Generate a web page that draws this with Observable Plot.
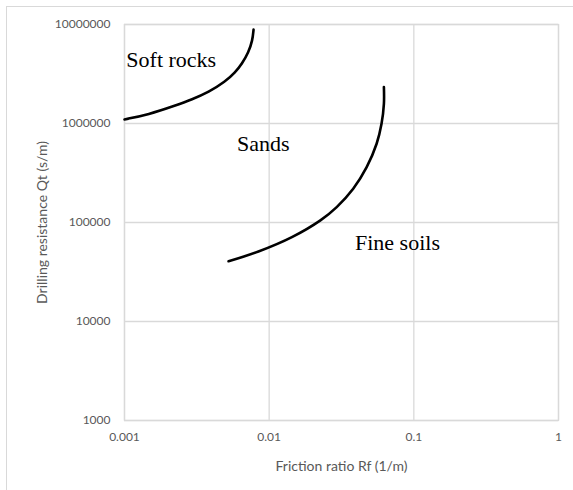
<!DOCTYPE html>
<html>
<head>
<meta charset="utf-8">
<script src="https://cdn.jsdelivr.net/npm/d3@7"></script>
<script src="https://cdn.jsdelivr.net/npm/@observablehq/plot@0.6"></script>
<style>
  html, body { margin: 0; padding: 0; background: #fff; overflow: hidden; }
  #wrap { position: relative; width: 573px; height: 490px; }
  #border { position: absolute; left: 6px; top: 6px; width: 700px; height: 700px; border: 1.5px solid #d9d9d9; box-sizing: border-box; }
  #chart { position: absolute; left: 0; top: 0; }
</style>
</head>
<body>
<div id="wrap"><div id="border"></div><div id="chart"></div></div>
<script>
const xTicks = [0.001, 0.01, 0.1, 1];
const yTicks = [1000, 10000, 100000, 1000000, 10000000];

const softRocksRf = [0.001, 0.00146, 0.00225, 0.00293, 0.00381, 0.00498, 0.00584, 0.00649, 0.0072, 0.00767, 0.0078];
const softRocksQt = [1100000, 1230000, 1520000, 1750000, 2070000, 2650000, 3300000, 4010000, 5250000, 6890000, 8900000];

const sandsRf = [0.00524, 0.00843, 0.01436, 0.0226, 0.0293, 0.0381, 0.0472, 0.0553, 0.0598, 0.0621, 0.0621];
const sandsQt = [40600, 50900, 71100, 105000, 143000, 219000, 362000, 624000, 993000, 1580000, 2330000];

const labelNames = ["Soft rocks", "Sands", "Fine soils"];
const labelRf = [0.00103, 0.0060, 0.0392];
const labelQt = [4400000, 628000, 62800];

const curve1 = softRocksRf.map((x, i) => ({x, y: softRocksQt[i]}));
const curve2 = sandsRf.map((x, i) => ({x, y: sandsQt[i]}));
const labels = labelNames.map((t, i) => ({t, x: labelRf[i], y: labelQt[i]}));

const grid = "#d9d9d9";
const tickFont = "Lato, 'Open Sans', sans-serif";

const chart = Plot.plot({
  width: 573,
  height: 490,
  marginLeft: 124,
  marginRight: 15,
  marginTop: 24,
  marginBottom: 70,
  style: { background: "transparent", fontFamily: tickFont, fontSize: "12px", color: "#595959" },
  x: { type: "log", domain: [0.001, 1] },
  y: { type: "log", domain: [1000, 10000000] },
  marks: [
    Plot.gridX(xTicks, { stroke: grid, strokeOpacity: 1, strokeWidth: 1.3 }),
    Plot.gridY(yTicks, { stroke: grid, strokeOpacity: 1, strokeWidth: 1.3 }),
    Plot.frame({ stroke: grid, strokeWidth: 1.3 }),
    Plot.axisX({ ticks: xTicks, tickFormat: d => String(d), tickSize: 0, tickPadding: 12,
      label: null, fill: "#595959", fontSize: 12 }),
    Plot.axisY({ ticks: yTicks, tickFormat: d => String(d), tickSize: 0, tickPadding: 14,
      label: null, fill: "#595959", fontSize: 12 }),
    Plot.axisX({ ticks: [], tickSize: 0, label: "Friction ratio Rf (1/m)", labelAnchor: "center",
      labelOffset: 50, labelArrow: "none", fill: "#595959", fontSize: 14 }),
    Plot.axisY({ ticks: [], tickSize: 0, label: "Drilling resistance Qt (s/m)", labelAnchor: "center",
      labelOffset: 87, labelArrow: "none", fill: "#595959", fontSize: 14 }),
    Plot.line(curve1, { x: "x", y: "y", stroke: "black", strokeWidth: 2.6, curve: "basis" }),
    Plot.line(curve2, { x: "x", y: "y", stroke: "black", strokeWidth: 2.6, curve: "catmull-rom" }),
    Plot.text(labels, { x: "x", y: "y", text: "t", textAnchor: "start", fill: "black",
      fontFamily: "'Liberation Serif', 'DejaVu Serif', serif", fontSize: 22 })
  ]
});
document.getElementById("chart").appendChild(chart);
</script>
</body>
</html>
